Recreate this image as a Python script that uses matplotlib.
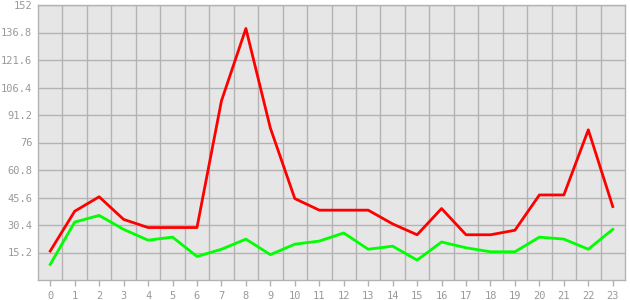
import matplotlib
matplotlib.use("Agg")
import matplotlib.pyplot as plt
import numpy as np

# hourly values
hours = list(range(24))
red_vals = [16, 38, 46, 33.5, 29, 29, 29, 99, 139, 84, 45, 38.6, 38.6, 38.6, 31, 25, 39.5, 25, 25, 27.5, 47, 47, 83, 40.6]
green_vals = [8.6, 32, 35.7, 28, 22, 23.7, 13, 17, 22.6, 14, 19.8, 21.5, 26, 17, 18.7, 11, 21, 17.8, 15.6, 15.6, 23.7, 22.6, 17, 28]
y_ticks = [15.2, 30.4, 45.6, 60.8, 76, 91.2, 106.4, 121.6, 136.8, 152]
y_labels = ["15.2", "30.4", "45.6", "60.8", "76", "91.2", "106.4", "121.6", "136.8", "152"]

GRID = "#b3b3b3"
TEXT = "#999999"

fig = plt.figure(figsize=(6.3, 3.0), dpi=100)
ax = fig.add_axes([38 / 630, 20 / 300, 587 / 630, 275 / 300])
ax.set_facecolor("#e6e6e6")

ax.plot(hours, red_vals, color="#ff0000", lw=2, zorder=3)
ax.plot(hours, green_vals, color="#00ff00", lw=2, zorder=3)

ax.set_xlim(-0.5, 23.5)
ax.set_ylim(0, 152)

# gridlines sit between the hours, tick labels on the hours
ax.set_xticks(hours)
ax.set_xticks(np.arange(0.5, 23, 1), minor=True)
ax.set_yticks(y_ticks)
ax.set_yticklabels(y_labels)
ax.grid(which="minor", axis="x", color=GRID, lw=1)
ax.grid(which="major", axis="y", color=GRID, lw=1)
ax.set_axisbelow(True)

ax.tick_params(axis="x", which="major", length=4, width=1, color=GRID,
               labelcolor=TEXT, labelsize=7.5, pad=4)
ax.tick_params(axis="x", which="minor", length=0)
ax.tick_params(axis="y", length=0, labelcolor=TEXT, labelsize=7.5, pad=4)
for lab in ax.get_xticklabels() + ax.get_yticklabels():
    lab.set_family("DejaVu Sans Mono")

for s in ax.spines.values():
    s.set_color(GRID)
    s.set_linewidth(1)

fig.savefig("out.png", dpi=100, facecolor="white")
